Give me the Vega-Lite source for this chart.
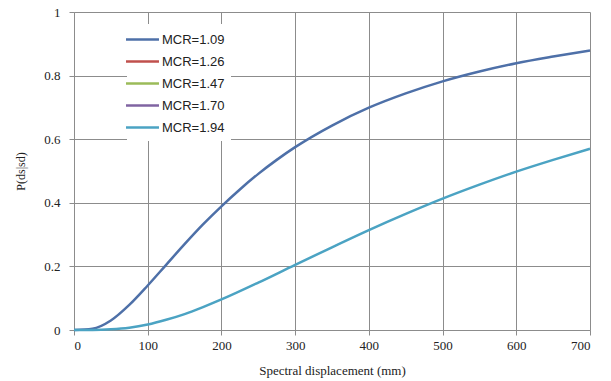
{
  "$schema": "https://vega.github.io/schema/vega-lite/v6.json",
  "width": 516,
  "height": 318,
  "autosize": "none",
  "padding": {"left": 74, "top": 12, "right": 21, "bottom": 51},
  "background": "white",
  "config": {"view": {"stroke": null}},
  "data": {"values": [
    {"sd": 0, "p": 0, "s": "MCR=1.09"},
    {"sd": 25, "p": 0.004, "s": "MCR=1.09"},
    {"sd": 50, "p": 0.030, "s": "MCR=1.09"},
    {"sd": 75, "p": 0.079, "s": "MCR=1.09"},
    {"sd": 100, "p": 0.140, "s": "MCR=1.09"},
    {"sd": 125, "p": 0.205, "s": "MCR=1.09"},
    {"sd": 150, "p": 0.270, "s": "MCR=1.09"},
    {"sd": 175, "p": 0.332, "s": "MCR=1.09"},
    {"sd": 200, "p": 0.389, "s": "MCR=1.09"},
    {"sd": 225, "p": 0.442, "s": "MCR=1.09"},
    {"sd": 250, "p": 0.491, "s": "MCR=1.09"},
    {"sd": 275, "p": 0.535, "s": "MCR=1.09"},
    {"sd": 300, "p": 0.575, "s": "MCR=1.09"},
    {"sd": 350, "p": 0.643, "s": "MCR=1.09"},
    {"sd": 400, "p": 0.699, "s": "MCR=1.09"},
    {"sd": 450, "p": 0.744, "s": "MCR=1.09"},
    {"sd": 500, "p": 0.782, "s": "MCR=1.09"},
    {"sd": 550, "p": 0.813, "s": "MCR=1.09"},
    {"sd": 600, "p": 0.839, "s": "MCR=1.09"},
    {"sd": 650, "p": 0.860, "s": "MCR=1.09"},
    {"sd": 700, "p": 0.879, "s": "MCR=1.09"},
    {"sd": 0, "p": 0, "s": "MCR=1.94"},
    {"sd": 25, "p": 0.0001, "s": "MCR=1.94"},
    {"sd": 50, "p": 0.002, "s": "MCR=1.94"},
    {"sd": 75, "p": 0.007, "s": "MCR=1.94"},
    {"sd": 100, "p": 0.017, "s": "MCR=1.94"},
    {"sd": 125, "p": 0.032, "s": "MCR=1.94"},
    {"sd": 150, "p": 0.050, "s": "MCR=1.94"},
    {"sd": 175, "p": 0.072, "s": "MCR=1.94"},
    {"sd": 200, "p": 0.096, "s": "MCR=1.94"},
    {"sd": 250, "p": 0.149, "s": "MCR=1.94"},
    {"sd": 300, "p": 0.205, "s": "MCR=1.94"},
    {"sd": 350, "p": 0.260, "s": "MCR=1.94"},
    {"sd": 400, "p": 0.314, "s": "MCR=1.94"},
    {"sd": 450, "p": 0.365, "s": "MCR=1.94"},
    {"sd": 500, "p": 0.413, "s": "MCR=1.94"},
    {"sd": 550, "p": 0.457, "s": "MCR=1.94"},
    {"sd": 600, "p": 0.498, "s": "MCR=1.94"},
    {"sd": 650, "p": 0.535, "s": "MCR=1.94"},
    {"sd": 700, "p": 0.570, "s": "MCR=1.94"}
  ]},
  "mark": {"type": "line", "strokeWidth": 2.5, "interpolate": "monotone"},
  "encoding": {
    "x": {
      "field": "sd", "type": "quantitative",
      "scale": {"domain": [0, 700], "nice": false},
      "axis": {
        "title": "Spectral displacement (mm)",
        "values": [0, 100, 200, 300, 400, 500, 600, 700],
        "grid": true, "gridColor": "#8c8c8c", "gridOpacity": 1, "gridWidth": 1,
        "domainColor": "#8c8c8c", "tickColor": "#8c8c8c", "tickSize": 5,
        "labelFont": "Liberation Serif", "labelFontSize": 13, "labelColor": "#222",
        "labelPadding": 4,
        "titleFont": "Liberation Serif", "titleFontSize": 13, "titleFontWeight": "normal",
        "titleColor": "#222", "titlePadding": 12
      }
    },
    "y": {
      "field": "p", "type": "quantitative",
      "scale": {"domain": [0, 1], "nice": false},
      "axis": {
        "title": "P(ds|sd)",
        "format": "~g",
        "values": [0, 0.2, 0.4, 0.6, 0.8, 1],
        "grid": true, "gridColor": "#8c8c8c", "gridOpacity": 1, "gridWidth": 1,
        "domainColor": "#8c8c8c", "tickColor": "#8c8c8c", "tickSize": 5,
        "labelFont": "Liberation Serif", "labelFontSize": 13, "labelColor": "#222",
        "labelPadding": 9,
        "titleFont": "Liberation Serif", "titleFontSize": 12, "titleFontWeight": "normal",
        "titleColor": "#222", "titlePadding": 16
      }
    },
    "color": {
      "field": "s", "type": "nominal",
      "scale": {
        "domain": ["MCR=1.09", "MCR=1.26", "MCR=1.47", "MCR=1.70", "MCR=1.94"],
        "range": ["#4E70A8", "#C0504D", "#9BBB59", "#8064A2", "#4BA3C3"]
      },
      "legend": {
        "title": null,
        "orient": "none",
        "legendX": 53,
        "legendY": 12,
        "fillColor": "white",
        "padding": 6,
        "symbolType": "M-2,0H2",
        "symbolSize": 272,
        "symbolStrokeWidth": 2.5,
        "rowPadding": 5,
        "labelFont": "Liberation Sans",
        "labelFontSize": 13,
        "labelColor": "#222",
        "labelOffset": 10
      }
    }
  }
}
